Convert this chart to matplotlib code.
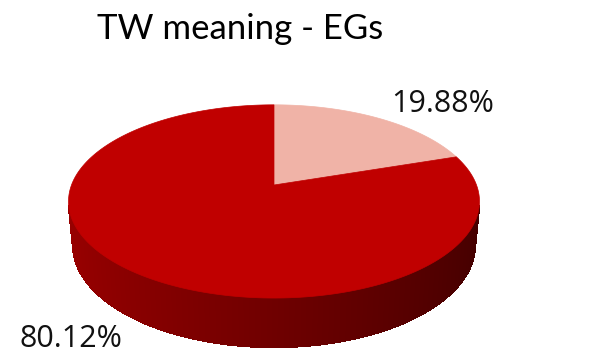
import numpy as np
import matplotlib
matplotlib.use("Agg")
import matplotlib.pyplot as plt
from matplotlib.patches import Polygon
from matplotlib.collections import PolyCollection

# data
title = "TW meaning - EGs"
shares = [19.88, 80.12]
labels = ["19.88%", "80.12%"]
colors = ["#F0B3A7", "#C00000"]
side_colors = ["#E8A095", "#C00000"]

# camera / layout (pixel space)
W, H = 595, 355
cx, cy = 274, 185          # projected pie centre
k = 1055.0                 # projection scale
phi = np.deg2rad(27.6)     # elevation
s, c = np.sin(phi), np.cos(phi)
D = 5.21
h = 0.247                  # thickness
label_offsets = [(65, -14), (-69, 18)]


def project(x, y, z):
    depth = y * c + D - z * s
    up = y * s + z * c
    return cx + k * x / depth, cy - k * up / depth


fig = plt.figure(figsize=(W / 100, H / 100), dpi=100)
ax = fig.add_axes([0, 0, 1, 1])
ax.set_xlim(0, W)
ax.set_ylim(H, 0)
ax.axis("off")

# slice angles, starting at 12 o'clock, clockwise
fracs = np.array(shares) / sum(shares)
bounds = np.pi / 2 - 2 * np.pi * np.concatenate([[0], np.cumsum(fracs)])

# visible side (front half)
t_lim = np.arcsin(-1 / (D * c))
t_side = np.linspace(np.pi - t_lim, 2 * np.pi + t_lim, 500)
quads, qcols = [], []
for t0, t1 in zip(t_side[:-1], t_side[1:]):
    tm = 0.5 * (t0 + t1)
    # which slice owns this angle
    a = (np.pi / 2 - tm) % (2 * np.pi)
    idx = np.searchsorted(np.cumsum(fracs) * 2 * np.pi, a)
    idx = min(idx, len(fracs) - 1)
    base = np.array(matplotlib.colors.to_rgb(side_colors[idx]))
    xs = np.cos(tm)
    shade = 0.80 - 0.22 * (xs + 1)   # lighter on the left
    pts = [project(np.cos(t0), np.sin(t0), 0), project(np.cos(t1), np.sin(t1), 0),
           project(np.cos(t1), np.sin(t1), -h), project(np.cos(t0), np.sin(t0), -h)]
    quads.append(pts)
    qcols.append(np.clip(base * shade, 0, 1))
ax.add_collection(PolyCollection(quads, facecolors=qcols, edgecolors=qcols,
                                 linewidths=0.8, antialiaseds=False))

# top faces
for i in range(len(fracs)):
    ts = np.linspace(bounds[i], bounds[i + 1], 300)
    pts = [project(0, 0, 0)] + [project(np.cos(t), np.sin(t), 0) for t in ts]
    ax.add_patch(Polygon(pts, closed=True, facecolor=colors[i], edgecolor=colors[i], lw=0.5))

# labels
for i in range(len(fracs)):
    tm = 0.5 * (bounds[i] + bounds[i + 1])
    z = 0 if np.sin(tm) > 0 else -h
    px, py = project(np.cos(tm), np.sin(tm), z)
    dx, dy = label_offsets[i]
    ax.text(px + dx, py + dy, labels[i], ha="center", va="center",
            fontsize=22, family="Open Sans", color="#111111")

ax.text(240, 29, title, ha="center", va="center", fontsize=25, family="Lato", color="black")

fig.savefig("out.png", dpi=100)
